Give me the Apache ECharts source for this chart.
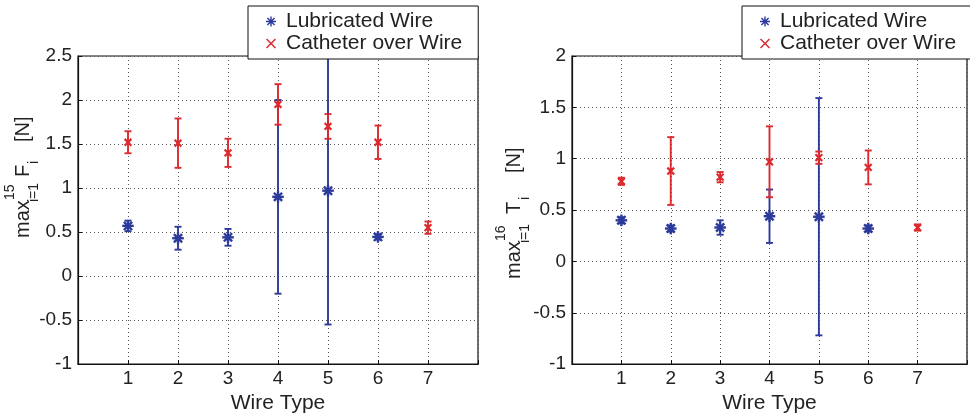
<!DOCTYPE html>
<html>
<head>
<meta charset="utf-8">
<script src="https://cdn.jsdelivr.net/npm/echarts@6/dist/echarts.min.js"></script>
<style>
html,body{margin:0;padding:0;background:#fff;}
#chart{width:970px;height:419px;}
</style>
</head>
<body>
<div id="chart"></div>
<script>
// ---- data ----
const wireTypes = [1, 2, 3, 4, 5, 6, 7];
const xTickLabels = ['1', '2', '3', '4', '5', '6', '7'];
const forceYTicks = [-1, -0.5, 0, 0.5, 1, 1.5, 2, 2.5];
const torqueYTicks = [-1, -0.5, 0, 0.5, 1, 1.5, 2];

// Left panel: max force
const forceLubMean  = [0.57, 0.43, 0.44, 0.90, 0.97, 0.445, null];
const forceLubErr   = [0.06, 0.13, 0.095, 1.10, 1.52, 0.03, null];
const forceCathMean = [1.52, 1.51, 1.40, 1.95, 1.70, 1.52, 0.55];
const forceCathErr  = [0.125, 0.28, 0.16, 0.23, 0.14, 0.19, 0.07];

// Right panel: max torque
const torqueLubMean  = [0.40, 0.32, 0.33, 0.44, 0.435, 0.32, null];
const torqueLubErr   = [0.03, 0.03, 0.07, 0.26, 1.155, 0.03, null];
const torqueCathMean = [0.78, 0.88, 0.82, 0.97, 1.01, 0.915, 0.33];
const torqueCathErr  = [0.035, 0.33, 0.05, 0.345, 0.06, 0.165, 0.03];

const seriesNames = ['Lubricated Wire', 'Catheter over Wire'];
const BLUE = '#2c3b9b';
const RED = '#dc2a2e';

// ---- helpers ----
function toData(mean, err) {
  const out = [];
  wireTypes.forEach((w, i) => {
    if (mean[i] != null) out.push([w, mean[i], err[i]]);
  });
  return out;
}

function makeRender(kind) {
  return function (params, api) {
    const x = api.value(0), m = api.value(1), e = api.value(2);
    const c = api.coord([x, m]);
    const t = api.coord([x, m + e]);
    const b = api.coord([x, m - e]);
    const color = kind === 'star' ? BLUE : RED;
    const st = { stroke: color, lineWidth: 1.9 };
    const cap = 3.5;
    const kids = [
      { type: 'line', shape: { x1: t[0], y1: t[1], x2: b[0], y2: b[1] }, style: st },
      { type: 'line', shape: { x1: t[0] - cap, y1: t[1], x2: t[0] + cap, y2: t[1] }, style: st },
      { type: 'line', shape: { x1: b[0] - cap, y1: b[1], x2: b[0] + cap, y2: b[1] }, style: st }
    ];
    const r = kind === 'star' ? 5.8 : 4.8;
    const angles = kind === 'star' ? [0, 45, 90, 135] : [45, 135];
    const mst = { stroke: color, lineWidth: kind === 'star' ? 2.4 : 2.2 };
    angles.forEach(a => {
      const rad = a * Math.PI / 180;
      const dx = Math.cos(rad) * r, dy = Math.sin(rad) * r;
      kids.push({ type: 'line', shape: { x1: c[0] - dx, y1: c[1] - dy, x2: c[0] + dx, y2: c[1] + dy }, style: mst });
    });
    return { type: 'group', children: kids };
  };
}

const starIcon = 'path://M0,8.6L20,8.6L20,11.4L0,11.4Z M8.6,0L11.4,0L11.4,20L8.6,20Z M3.8,1.8L18.2,16.2L16.2,18.2L1.8,3.8Z M18.2,3.8L3.8,18.2L1.8,16.2L16.2,1.8Z';
const crossIcon = 'path://M2.5,0.5L10,8L17.5,0.5L19.5,2.5L12,10L19.5,17.5L17.5,19.5L10,12L2.5,19.5L0.5,17.5L8,10L0.5,2.5Z';

const FONT = 'Liberation Sans, Arial, sans-serif';
const TXT = '#222';

function xAxisCfg(gi) {
  return {
    type: 'value', gridIndex: gi, min: 0, max: 8, interval: 1,
    name: 'Wire Type', nameLocation: 'middle', nameGap: 24,
    nameTextStyle: { fontFamily: FONT, fontSize: 21, color: TXT },
    axisLine: { show: true, onZero: false, lineStyle: { color: '#111', width: 1.2 } },
    axisTick: { show: true, inside: true, length: 4, lineStyle: { color: '#111' } },
    axisLabel: {
      margin: 5, fontFamily: FONT, fontSize: 19, color: TXT,
      formatter: v => { const i = wireTypes.indexOf(v); return i >= 0 ? xTickLabels[i] : ''; }
    },
    splitLine: { show: true, lineStyle: { color: '#555', type: [1, 3], width: 1 } }
  };
}
function yAxisCfg(gi, min, max, ticks) {
  return {
    type: 'value', gridIndex: gi, min: min, max: max, interval: 0.5,
    axisLine: { show: true, onZero: false, lineStyle: { color: '#111', width: 1.2 } },
    axisTick: { show: true, inside: true, length: 4, lineStyle: { color: '#111' } },
    axisLabel: {
      margin: 6, fontFamily: FONT, fontSize: 19, color: TXT,
      formatter: v => { const i = ticks.indexOf(+v.toFixed(2)); return i >= 0 ? String(ticks[i]) : ''; }
    },
    splitLine: { show: true, lineStyle: { color: '#555', type: [1, 3], width: 1 } }
  };
}

function legendCfg(left) {
  return {
    orient: 'vertical', left: left, top: 6,
    backgroundColor: '#fff', borderColor: '#111', borderWidth: 1,
    padding: [5, 16, 5, 18],
    itemWidth: 20, itemHeight: 10, itemGap: 1, itemStyle: { borderWidth: 0 },
    textStyle: { fontFamily: FONT, fontSize: 21, lineHeight: 20, color: TXT },
    selectedMode: false,
    data: [
      { name: seriesNames[0], icon: starIcon, itemStyle: { color: BLUE } },
      { name: seriesNames[1], icon: crossIcon, itemStyle: { color: RED } }
    ]
  };
}

function labelTexts(x0, y0s, sup, sym) {
  // rotated y-axis label built from rotated text pieces
  const rot = Math.PI / 2;
  const mk = (text, x, y, size) => ({
    type: 'text', x: x, y: y, rotation: rot, silent: true,
    style: { text: text, font: size + 'px ' + FONT, fill: TXT, textAlign: 'left', textVerticalAlign: 'middle' }
  });
  return [
    mk('max', x0, y0s[0], 20),
    mk(sup, x0 - 13, y0s[1], 14),
    mk('i=1', x0 + 11, y0s[2], 14),
    mk(sym, x0, y0s[3], 20),
    mk('i', x0 + 11, y0s[4], 14),
    mk('[N]', x0, y0s[5], 20)
  ];
}

const chart = echarts.init(document.getElementById('chart'), null, { renderer: 'canvas' });
chart.setOption({
  backgroundColor: '#fff',
  animation: false,
  grid: [
    { left: 78, top: 56, width: 400, height: 316, show: true, borderColor: '#111', borderWidth: 1.2, backgroundColor: 'transparent' },
    { left: 572, top: 56, width: 400, height: 316, show: true, borderColor: '#111', borderWidth: 1.2, backgroundColor: 'transparent' }
  ],
  xAxis: [xAxisCfg(0), xAxisCfg(1)],
  yAxis: [yAxisCfg(0, -1, 2.5, forceYTicks), yAxisCfg(1, -1, 2, torqueYTicks)],
  legend: [legendCfg(248), legendCfg(742)],
  graphic: [].concat(
    labelTexts(23, [238, 200, 202, 177, 164, 142], '15', 'F'),
    labelTexts(514, [279, 241, 243, 214, 200, 173], '16', 'T')
  ),
  series: [
    { type: 'custom', name: seriesNames[0], xAxisIndex: 0, yAxisIndex: 0, clip: true, itemStyle: { color: BLUE },
      renderItem: makeRender('star'), data: toData(forceLubMean, forceLubErr), z: 3 },
    { type: 'custom', name: seriesNames[1], xAxisIndex: 0, yAxisIndex: 0, clip: true, itemStyle: { color: RED },
      renderItem: makeRender('cross'), data: toData(forceCathMean, forceCathErr), z: 4 },
    { type: 'custom', name: seriesNames[0], xAxisIndex: 1, yAxisIndex: 1, clip: true, itemStyle: { color: BLUE },
      renderItem: makeRender('star'), data: toData(torqueLubMean, torqueLubErr), z: 3 },
    { type: 'custom', name: seriesNames[1], xAxisIndex: 1, yAxisIndex: 1, clip: true, itemStyle: { color: RED },
      renderItem: makeRender('cross'), data: toData(torqueCathMean, torqueCathErr), z: 4 }
  ]
});
</script>
</body>
</html>
